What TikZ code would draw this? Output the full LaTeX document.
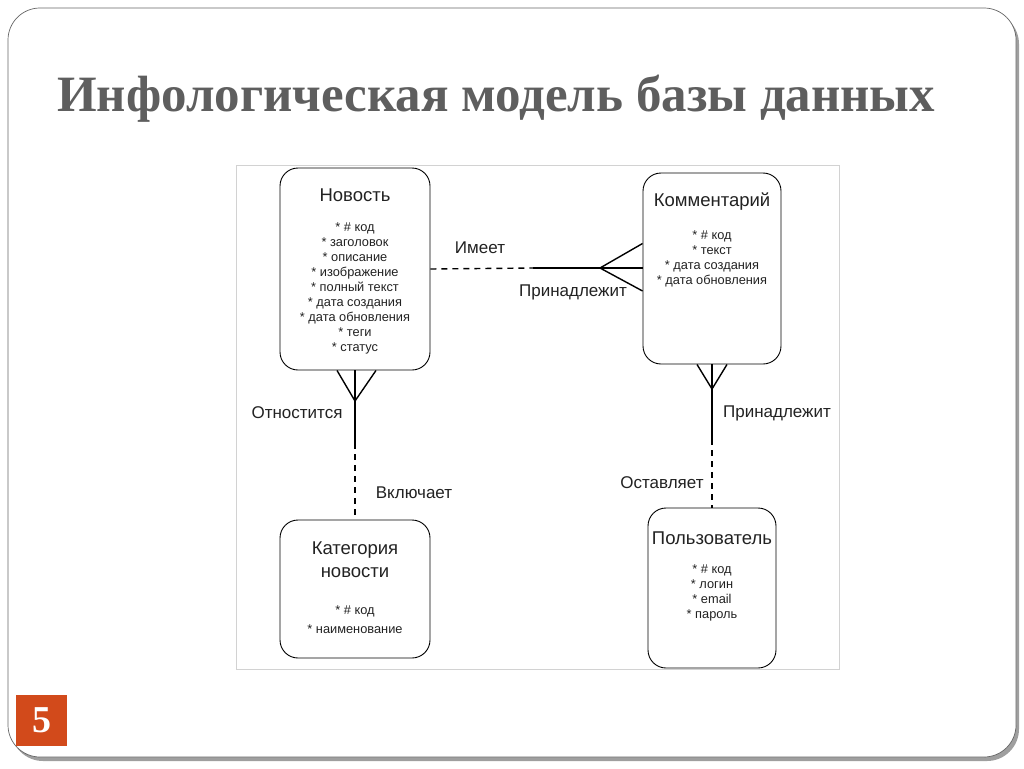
\documentclass[tikz,border=0pt]{standalone}
\usepackage{fontspec}
\setmainfont{Liberation Sans}
\newfontfamily\titlefont{Liberation Serif}
\usetikzlibrary{calc}
\definecolor{titlegray}{HTML}{5E5E5E}
\definecolor{numorange}{HTML}{D24A1B}
\definecolor{textgray}{HTML}{222222}
\tikzset{
  entity/.style={draw, rounded corners=18pt, line width=0.9pt},
  enttitle/.style={font=\fontsize{18.5}{23}\selectfont, text=textgray, align=center, inner sep=0pt},
  attr/.style={font=\fontsize{12.8}{15}\selectfont, text=textgray, align=center, inner sep=0pt},
  rel/.style={font=\fontsize{17}{19}\selectfont, text=textgray, inner sep=0pt},
  link/.style={line width=1.4pt},
  dlink/.style={line width=1.4pt, dash pattern=on 6pt off 5pt}
}
\begin{document}
\begin{tikzpicture}[x=1pt,y=-1pt]
\useasboundingbox (0,0) rectangle (1024,768);
% slide frame
\fill[gray!75, rounded corners=32pt] (11,12) rectangle (1019,761);
\filldraw[fill=white, draw=gray!80!black, line width=0.7pt, rounded corners=32pt] (8,8) rectangle (1016,757);
\node[anchor=base west, inner sep=0pt, text=titlegray] (title) at (57,111)
  {\resizebox{878pt}{!}{\titlefont\bfseries\fontsize{50}{50}\selectfont Инфологическая модель базы данных}};
\node[fill=numorange, minimum size=51pt, inner sep=0pt, text=white] (num) at (41.5,720.5)
  {\titlefont\bfseries\fontsize{38}{38}\selectfont 5};
% diagram frame
\draw[gray!35, line width=0.8pt] (236,165) rectangle (839,669);

% entities
\node[entity, minimum width=150pt, minimum height=202pt] (nov) at (355,269) {};
\node[entity, minimum width=138pt, minimum height=191pt] (komm) at (712,268.5) {};
\node[entity, minimum width=150pt, minimum height=138pt] (kat) at (355,589) {};
\node[entity, minimum width=128pt, minimum height=160pt] (polz) at (712,588) {};

\node[enttitle] (novt) at (355,195) {Новость};
\node[attr] (nova) at (355,288) {* \# код\\* заголовок\\* описание\\* изображение\\* полный текст\\* дата создания\\* дата обновления\\* теги\\* статус};
\node[enttitle] (kommt) at (712,202) {Комментарий};
\node[attr] (komma) at (712,258.5) {* \# код\\* текст\\* дата создания\\* дата обновления};
\node[enttitle] (katt) at (355,559.5) {Категория\\новости};
\node[attr, font=\fontsize{12.8}{18.5}\selectfont] (kata) at (355,619.5) {* \# код\\* наименование};
\node[enttitle] (polzt) at (712,538) {Пользователь};
\node[attr] (polza) at (712,592.5) {* \# код\\* логин\\* email\\* пароль};

% Новость -- Комментарий
\coordinate (m1) at (533,268);
\coordinate (f1) at (600,268);
\draw[dlink] (nov.east) -- (m1);
\draw[link] (m1) -- (komm.west |- m1);
\draw[link] ($(komm.west)+(0,-25)$) -- (f1) -- ($(komm.west)+(0,22.5)$);
\node[rel] (r1) at (480,248) {Имеет};
\node[rel] (r2) at (573,292) {Принадлежит};

% Новость -- Категория
\coordinate (m2) at (355,443);
\coordinate (f2) at (355,401);
\draw[link] (nov.south) -- (m2);
\draw[dlink] (m2) -- (kat.north);
\draw[link] ($(nov.south)+(-18,0)$) -- (f2) -- ($(nov.south)+(21,0)$);
\node[rel] (r3) at (297,413) {Отностится};
\node[rel] (r4) at (414,493) {Включает};

% Комментарий -- Пользователь
\coordinate (m3) at (712,439);
\coordinate (f3) at (712,389);
\draw[link] (komm.south) -- (m3);
\draw[dlink] (m3) -- (polz.north);
\draw[link] ($(komm.south)+(-15,0)$) -- (f3) -- ($(komm.south)+(15,0)$);
\node[rel] (r5) at (777,413) {Принадлежит};
\node[rel] (r6) at (662,483) {Оставляет};
\end{tikzpicture}
\end{document}
